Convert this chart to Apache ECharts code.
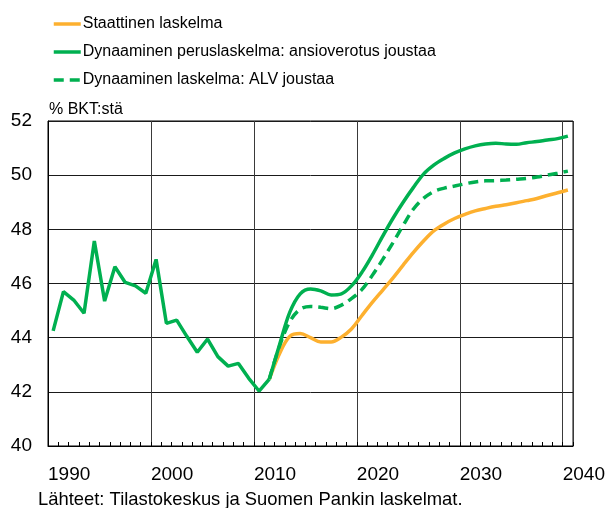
<!DOCTYPE html>
<html>
<head>
<meta charset="utf-8">
<script src="https://cdn.jsdelivr.net/npm/echarts@6/dist/echarts.min.js"></script>
<style>
  html, body { margin: 0; padding: 0; background: #fff; }
  #chart { width: 608px; height: 508px; }
</style>
</head>
<body>
<div id="chart"></div>
<script>
const histYears = [1990, 1991, 1992, 1993, 1994, 1995, 1996, 1997, 1998, 1999, 2000,
    2001, 2002, 2003, 2004, 2005, 2006, 2007, 2008, 2009, 2010, 2011];
const histValues = [44.25, 45.70, 45.39, 44.90, 47.57, 45.35, 46.62, 46.04, 45.91, 45.64, 46.89,
    44.53, 44.65, 44.04, 43.46, 43.95, 43.30, 42.95, 43.05, 42.50, 42.03, 42.47];

const projYears = [2011, 2012, 2013, 2014, 2015, 2016, 2017, 2018, 2019, 2020,
    2021, 2022, 2023, 2024, 2025, 2026, 2027, 2028, 2029, 2030,
    2031, 2032, 2033, 2034, 2035, 2036, 2037, 2038, 2039, 2040];
const staticValues = [42.47, 43.42, 44.05, 44.15, 44.00, 43.84, 43.84, 44.02, 44.33, 44.82,
    45.30, 45.75, 46.20, 46.68, 47.15, 47.58, 47.95, 48.20, 48.40, 48.55,
    48.68, 48.77, 48.85, 48.91, 48.98, 49.06, 49.14, 49.25, 49.35, 49.45];
const dynBaseValues = [42.47, 43.75, 44.95, 45.62, 45.80, 45.73, 45.58, 45.62, 45.92, 46.42,
    47.05, 47.74, 48.40, 49.00, 49.55, 50.05, 50.38, 50.62, 50.82, 50.97,
    51.08, 51.15, 51.18, 51.15, 51.14, 51.20, 51.24, 51.30, 51.35, 51.44];
const dynVatValues = [42.47, 43.70, 44.60, 45.05, 45.15, 45.12, 45.07, 45.20, 45.45, 45.78,
    46.30, 46.88, 47.50, 48.15, 48.75, 49.15, 49.40, 49.52, 49.60, 49.68,
    49.75, 49.79, 49.80, 49.82, 49.85, 49.88, 49.93, 50.00, 50.07, 50.15];

const names = [
    'Staattinen laskelma',
    'Dynaaminen peruslaskelma: ansioverotus joustaa',
    'Dynaaminen laskelma: ALV joustaa',
];

const FONT = '"Liberation Sans", Arial, sans-serif';
const ORANGE = '#FDB02F';
const GREEN = '#00B050';

// each year is drawn in the middle of its own year band
const pairs = (years, values) => years.map((y, i) => [y + 0.5, values[i]]);

const chart = echarts.init(document.getElementById('chart'));

const option = {
    animation: false,
    backgroundColor: '#fff',
    textStyle: { fontFamily: FONT },
    legend: {
        data: names,
        orient: 'vertical',
        left: 47,
        top: 11,
        itemWidth: 27,
        itemHeight: 14,
        itemGap: 12,
        itemStyle: { opacity: 0 },
        lineStyle: { width: 3.5 },
        textStyle: { fontFamily: FONT, fontSize: 16, color: '#000', padding: [0, 0, 0, -3] },
    },
    graphic: [
        {
            type: 'text',
            left: 49,
            top: 102,
            style: { text: '% BKT:stä', font: '16px ' + FONT, fill: '#000' },
        },
        {
            type: 'text',
            left: 38,
            top: 491,
            style: { text: 'Lähteet: Tilastokeskus ja Suomen Pankin laskelmat.', font: '18.4px ' + FONT, fill: '#000' },
        },
    ],
    grid: {
        left: 48,
        right: 32,
        top: 121,
        bottom: 62,
        show: true,
        borderColor: '#000',
        borderWidth: 1,
    },
    xAxis: [
        {
            type: 'value',
            min: 1990,
            max: 2041,
            interval: 10,
            axisLine: { show: true, lineStyle: { color: '#000' } },
            axisTick: { show: false },
            splitLine: { show: true, lineStyle: { color: '#3a3a3a', width: 1 } },
            axisLabel: {
                color: '#000',
                fontSize: 19,
                fontFamily: FONT,
                align: 'left',
                margin: 19,
                formatter: v => (v % 10 === 0 ? String(v) : ''),
            },
        },
        {
            type: 'value',
            min: 1990,
            max: 2041,
            interval: 1,
            position: 'bottom',
            axisLine: { show: false },
            axisTick: { show: true, inside: true, length: 4, lineStyle: { color: '#000' } },
            axisLabel: { show: false },
            splitLine: { show: false },
        },
    ],
    yAxis: {
        type: 'value',
        min: 40,
        max: 52,
        interval: 2,
        axisLine: { show: true, lineStyle: { color: '#000' } },
        axisTick: { show: false },
        splitLine: { show: true, lineStyle: { color: '#1a1a1a', width: 1 } },
        axisLabel: { color: '#000', fontSize: 19, fontFamily: FONT, margin: 16 },
    },
    series: [
        {
            name: names[0],
            type: 'line',
            data: pairs(projYears, staticValues),
            smooth: 0.35,
            symbol: 'none',
            lineStyle: { color: ORANGE, width: 3.5 },
            itemStyle: { color: ORANGE },
        },
        {
            name: names[2],
            type: 'line',
            data: pairs(projYears, dynVatValues),
            smooth: 0.35,
            symbol: 'none',
            lineStyle: { color: GREEN, width: 3.5, type: [10, 6] },
            itemStyle: { color: GREEN },
        },
        {
            name: names[1],
            type: 'line',
            data: pairs(projYears, dynBaseValues),
            smooth: 0.35,
            symbol: 'none',
            lineStyle: { color: GREEN, width: 3.5 },
            itemStyle: { color: GREEN },
        },
        {
            name: names[1],
            type: 'line',
            data: pairs(histYears, histValues),
            symbol: 'none',
            lineStyle: { color: GREEN, width: 3.5 },
            itemStyle: { color: GREEN },
        },
    ],
};

chart.setOption(option);
</script>
</body>
</html>
